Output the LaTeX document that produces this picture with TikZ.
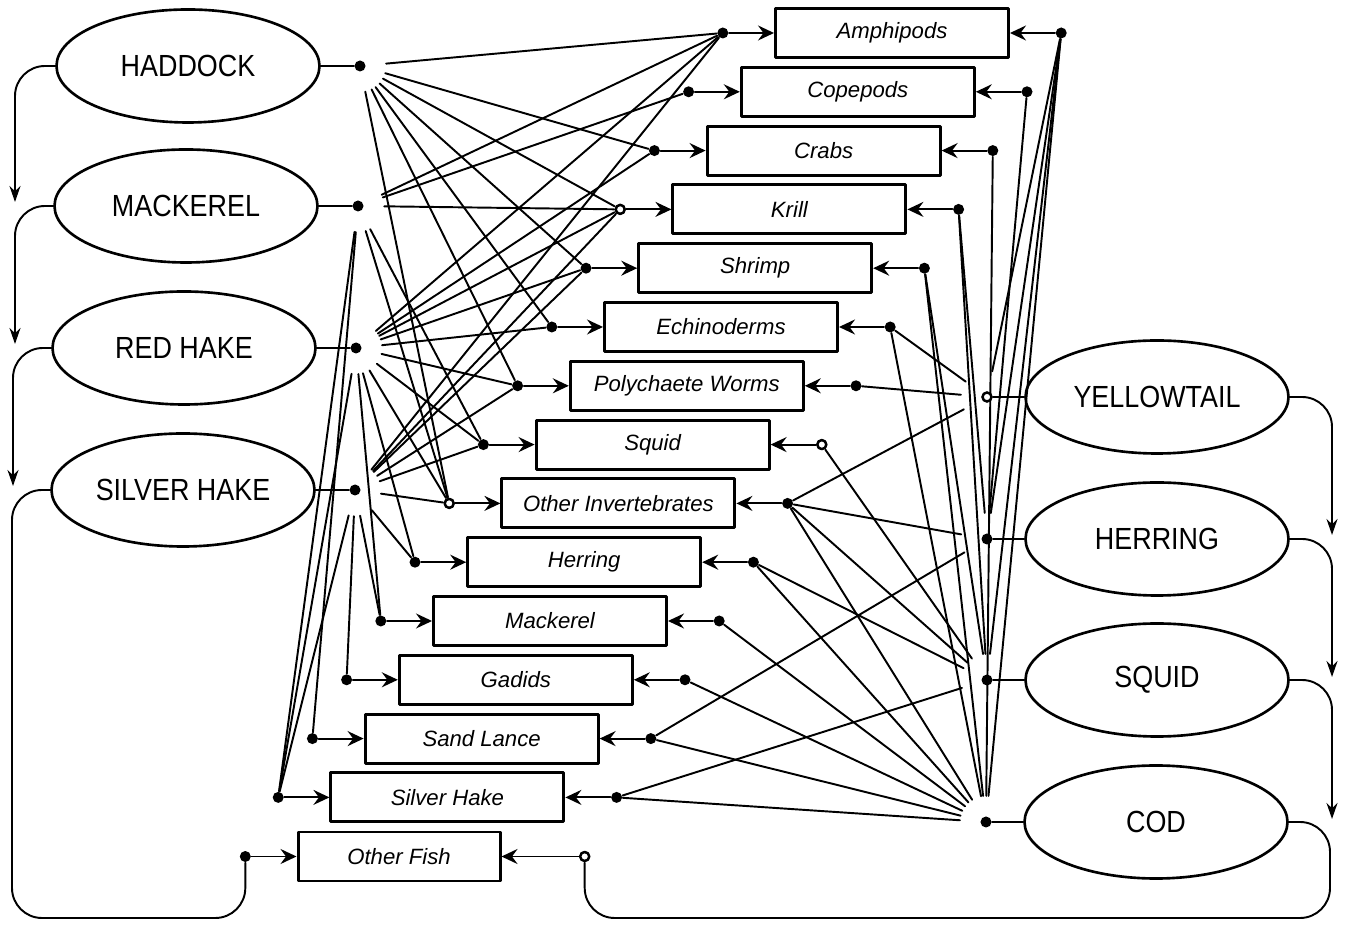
\documentclass[tikz,border=0pt]{standalone}
\usepackage{fontspec}
\newfontfamily\fishfont[FakeStretch=0.88]{Liberation Sans}
\newfontfamily\preyfont{Liberation Sans}
\usetikzlibrary{arrows.meta,positioning,shapes.geometric}
\tikzset{
  fish/.style={draw,ellipse,line width=0.75pt,minimum width=2.63cm,minimum height=1.13cm,inner sep=0pt,font=\fishfont\fontsize{8.7}{10}\selectfont},
  prey/.style={draw,rectangle,line width=0.85pt,minimum width=2.33cm,minimum height=0.49cm,inner sep=0pt,font=\preyfont\itshape\fontsize{6.3}{7}\selectfont},
  dot/.style={circle,fill,inner sep=0pt,minimum size=1.1mm},
  odot/.style={circle,draw,fill=white,line width=0.7pt,inner sep=0pt,minimum size=0.9mm},
  web/.style={line width=0.55pt},
  feed/.style={line width=0.55pt,-{Stealth[length=1.6mm,width=1.5mm,inset=0.55mm]}},
  flow/.style={line width=0.55pt,rounded corners=0.3cm,-{Stealth[length=1.6mm,width=1.1mm]}},
}
\begin{document}
\begin{tikzpicture}[x=1cm,y=-1cm,line join=round,line cap=round]
\useasboundingbox (0,0) rectangle (13.46,9.25);
% predators
\node[fish] (had) at (1.88,0.66) {HADDOCK};
\node[fish] (mac) at (1.86,2.06) {MACKEREL};
\node[fish] (red) at (1.84,3.48) {RED HAKE};
\node[fish] (sil) at (1.83,4.90) {SILVER HAKE};
\node[fish] (yel) at (11.57,3.97) {YELLOWTAIL};
\node[fish] (her) at (11.57,5.39) {HERRING};
\node[fish] (squ) at (11.57,6.80) {SQUID};
\node[fish] (cod) at (11.56,8.22) {COD};
\foreach \f in {had,mac,red,sil}{
  \node[dot,right=0.33cm of \f] (\f-hub) {};
  \draw[web] (\f) -- (\f-hub);}
\foreach \f in {yel,her,squ,cod}{
  \node[dot,left=0.31cm of \f] (\f-hub) {};
  \draw[web] (\f) -- (\f-hub);}
% prey boxes
\foreach \nm/\lab [count=\i from 0] in {amph/Amphipods,cope/Copepods,crab/Crabs,krill/Krill,shrimp/Shrimp,echino/Echinoderms,poly/Polychaete Worms,squid/Squid,othinv/Other Invertebrates,herring/Herring,mack/Mackerel,gadid/Gadids,sandl/Sand Lance,silh/Silver Hake}{
  \node[prey] (\nm) at ({8.92-0.342*\i},{0.33+0.588*\i}) {\lab};
  \node[dot,left=0.45cm of \nm] (\nm-l) {};
  \node[dot,right=0.45cm of \nm] (\nm-r) {};
  \draw[feed] (\nm-l) -- (\nm);
  \draw[feed] (\nm-r) -- (\nm);
}
\node[prey,minimum width=2.02cm] (othf) at (3.99,8.565) {Other Fish};
\node[dot,left=0.45cm of othf] (othf-l) {};
\node[dot,right=0.77cm of othf] (othf-r) {};
\draw[feed] (othf-l) -- (othf);
\draw[feed] (othf-r) -- (othf);
% who eats what
\foreach \f/\preys in {had/{amph,crab,krill,shrimp,echino,poly,othinv},
    mac/{amph,cope,krill,squid,othinv,sandl,silh},
    red/{amph,crab,krill,shrimp,echino,poly,squid,othinv,herring,mack,silh},
    sil/{amph,krill,shrimp,poly,squid,othinv,herring,mack,gadid,silh}}
  \foreach \p in \preys {\draw[web,shorten <=2mm] (\f-hub) -- (\p-l);}
\foreach \f/\preys in {yel/{amph,echino,poly,othinv},
    her/{amph,cope,krill,othinv,sandl},
    squ/{amph,krill,shrimp,squid,othinv,herring,silh},
    cod/{amph,crab,shrimp,echino,othinv,herring,mack,gadid,sandl,silh}}
  \foreach \p in \preys {\draw[web,shorten >=2mm] (\p-r) -- (\f-hub);}
\foreach \c in {krill-l,othinv-l,squid-r,yel-hub,othf-r}
  \node[odot] at (\c) {};
% order of the predators
\draw[flow] (had.west) -- (0.15,0.66) -- (0.15,2.02);
\draw[flow] (mac.west) -- (0.15,2.06) -- (0.15,3.44);
\draw[flow] (red.west) -- (0.13,3.48) -- (0.13,4.86);
\draw[web,rounded corners=0.3cm] (sil.west) -- (0.12,4.90) -- (0.12,9.18) -- (othf-l |- 0,9.18) -- (othf-l);
\draw[flow] (yel.east) -- (13.32,3.97) -- (13.32,5.35);
\draw[flow] (her.east) -- (13.32,5.39) -- (13.32,6.77);
\draw[flow] (squ.east) -- (13.32,6.80) -- (13.32,8.19);
\draw[web,rounded corners=0.3cm] (cod.east) -- (13.30,8.22) -- (13.30,9.18) -- (othf-r |- 0,9.18) -- (othf-r);
\end{tikzpicture}
\end{document}
